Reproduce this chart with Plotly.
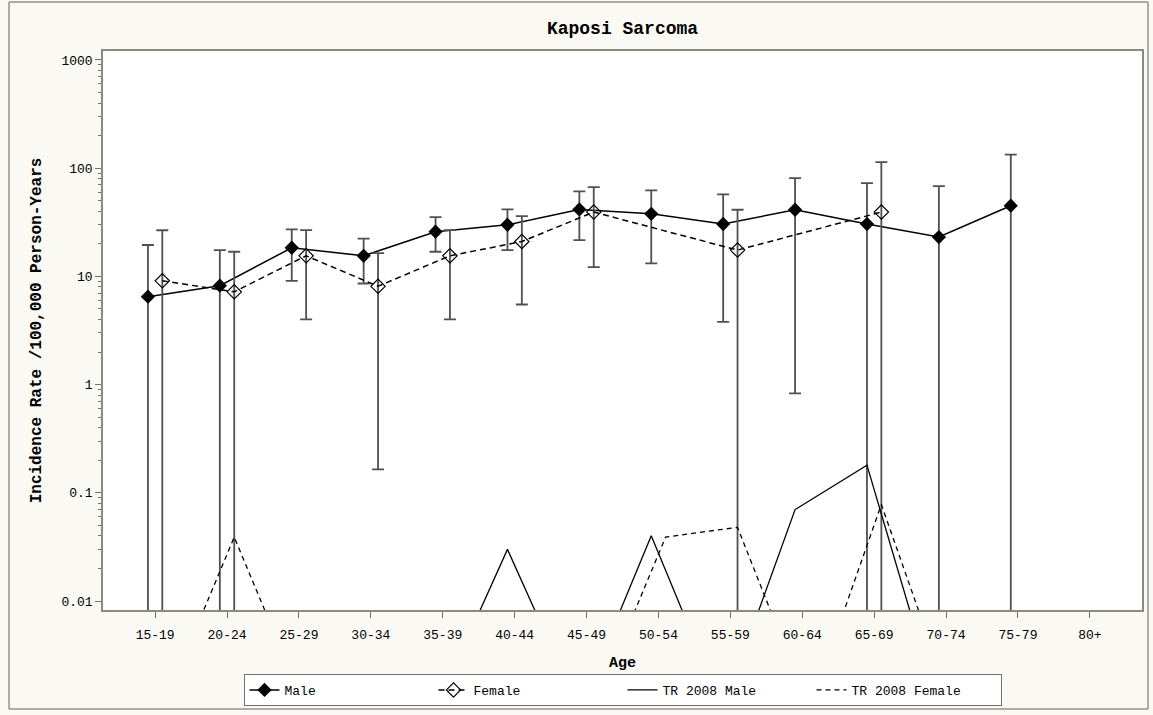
import plotly.graph_objects as go

# Age groups on the category axis
age_groups = ["15-19", "20-24", "25-29", "30-34", "35-39", "40-44", "45-49",
              "50-54", "55-59", "60-64", "65-69", "70-74", "75-79", "80+"]

# Observed incidence rates per 100,000 person-years with 95% limits (0 = lower limit at zero)
male_rate = [6.5, 8.2, 18.4, 15.5, 25.9, 30.0, 41.6, 37.9, 30.5, 41.3, 30.5, 23.1, 45.0, None]
male_upper = [19.5, 17.5, 27.2, 22.3, 35.3, 41.6, 61.0, 62.3, 57.2, 80.9, 72.7, 68.3, 133.7, None]
male_lower = [0, 0, 9.1, 8.6, 16.9, 17.5, 21.6, 13.2, 3.8, 0.83, 0, 0, 0, None]

female_rate = [9.1, 7.2, 15.5, 8.1, 15.5, 21.0, 39.3, None, 17.5, None, 39.3, None, None, None]
female_upper = [26.7, 16.9, 26.8, 16.4, 26.8, 36.1, 66.8, None, 41.3, None, 114.0, None, None, None]
female_lower = [0, 0, 4.0, 0.165, 4.0, 5.5, 12.2, None, 0, None, 0, None, None, None]

# Reference rates (TR 2008); 0.001 stands for groups below the plotted range
tr_male = [0.001, 0.001, 0.001, 0.001, 0.001, 0.03, 0.001, 0.04, 0.001, 0.07, 0.18,
           0.001, 0.001, 0.001]
tr_female = [0.001, 0.039, 0.001, 0.001, 0.001, 0.001, 0.001, 0.039, 0.048, 0.001, 0.078,
             0.001, 0.001, 0.001]

y_ticks = [1000, 100, 10, 1, 0.1, 0.01]
y_tick_text = ["1000", "100", "10", "1", "0.1", "0.01"]

FONT = "Liberation Mono, DejaVu Sans Mono, monospace"
BAR = "#505050"

idx = list(range(len(age_groups)))
male_x = [i - 0.1 for i in idx]
female_x = [i + 0.1 for i in idx]


def plus(rate, up):
    return [None if r is None else u - r for r, u in zip(rate, up)]


def minus(rate, lo):
    return [None if r is None else r - l for r, l in zip(rate, lo)]


fig = go.Figure()

fig.add_trace(go.Scatter(
    x=male_x, y=male_rate, name="Male", mode="lines+markers",
    line=dict(color="black", width=1.5),
    marker=dict(symbol="diamond", size=11, color="black"),
    error_y=dict(type="data", symmetric=False,
                 array=plus(male_rate, male_upper),
                 arrayminus=minus(male_rate, male_lower),
                 color=BAR, thickness=1.8, width=6),
))

fig.add_trace(go.Scatter(
    x=female_x, y=female_rate, name="Female", mode="lines+markers",
    connectgaps=True,
    line=dict(color="black", width=1.5, dash="6px,4px"),
    marker=dict(symbol="diamond-open", size=11, color="black", line=dict(width=1.2)),
    error_y=dict(type="data", symmetric=False,
                 array=plus(female_rate, female_upper),
                 arrayminus=minus(female_rate, female_lower),
                 color=BAR, thickness=1.8, width=6),
))

fig.add_trace(go.Scatter(
    x=male_x, y=tr_male, name="TR 2008 Male", mode="lines",
    line=dict(color="black", width=1.3),
))

fig.add_trace(go.Scatter(
    x=female_x, y=tr_female, name="TR 2008 Female", mode="lines",
    line=dict(color="black", width=1.3, dash="5px,4px"),
))

minor_vals = [m * 10 ** e for e in range(-2, 3) for m in range(2, 10)]

fig.update_layout(
    width=1153, height=715,
    margin=dict(l=103, r=11, t=51, b=105, autoexpand=False),
    paper_bgcolor="#fbf9f3",
    plot_bgcolor="white",
    font=dict(family=FONT, size=13, color="black"),
    title=dict(text="<b>Kaposi Sarcoma</b>", x=0.5, xref="paper", xanchor="center",
               y=1 - 28 / 715, yanchor="middle", font=dict(size=18, family=FONT)),
    showlegend=True,
    legend=dict(orientation="h", x=0.5, xanchor="center",
                yref="container", y=1 - 674 / 715, yanchor="top",
                bgcolor="white", bordercolor="#707070", borderwidth=1,
                font=dict(size=13, family=FONT), entrywidth=144, entrywidthmode="pixels",
                itemclick=False),
    xaxis=dict(
        range=[-0.725, len(age_groups) - 1 + 0.725],
        tickmode="array", tickvals=idx, ticktext=age_groups,
        ticks="outside", ticklen=6, tickcolor="#707070",
        ticklabelstandoff=6, automargin=False,
        showline=True, linecolor="#8a8a80", linewidth=1.5, mirror=True,
        showgrid=False, zeroline=False,
        tickfont=dict(size=13),
        title=dict(text="<b>Age</b>", font=dict(size=15), standoff=14),
    ),
    yaxis=dict(
        type="log", range=[-2.083, 3.083], automargin=False,
        tickmode="array", tickvals=y_ticks, ticktext=y_tick_text,
        ticks="outside", ticklen=6, tickcolor="#707070",
        minor=dict(tickmode="array", tickvals=minor_vals, ticks="outside", ticklen=3,
                   tickcolor="#707070", showgrid=False),
        showline=True, linecolor="#8a8a80", linewidth=1.5, mirror=True,
        showgrid=False, zeroline=False,
        tickfont=dict(size=13),
        title=dict(text="<b>Incidence Rate /100,000 Person-Years</b>",
                   font=dict(size=16), standoff=16),
    ),
    shapes=[dict(type="rect", xref="paper", yref="paper",
                 x0=(9 - 103) / 1039, x1=(1148 - 103) / 1039,
                 y0=(610 - 709) / 559, y1=(610 - 2) / 559,
                 line=dict(color="#606060", width=1), layer="below")],
)

fig.write_html("out.html")
